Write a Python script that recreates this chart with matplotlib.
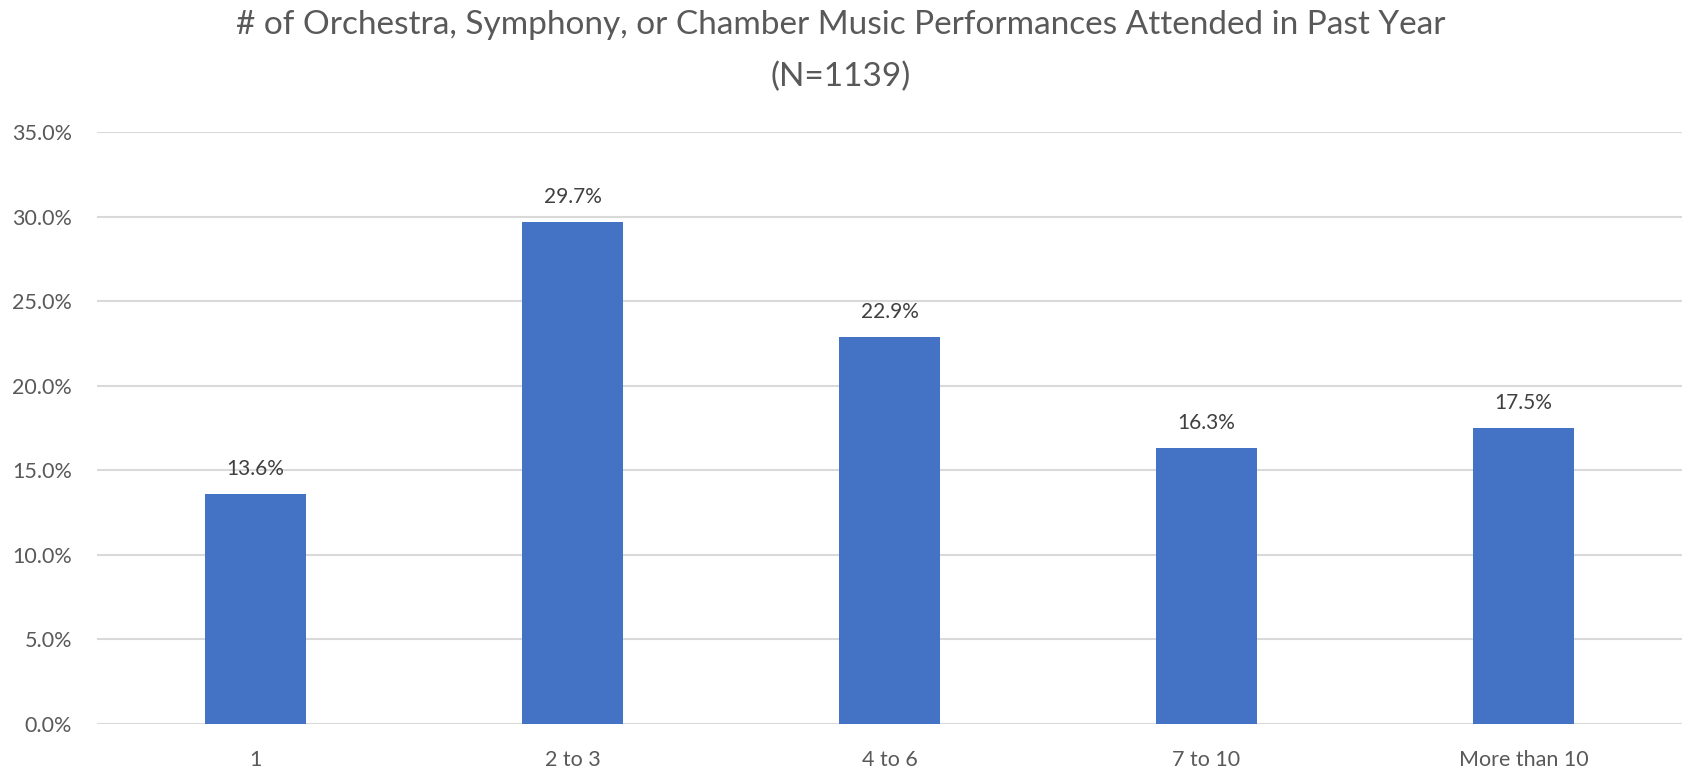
import matplotlib

matplotlib.use("Agg")
import matplotlib.pyplot as plt
from matplotlib.ticker import FuncFormatter, MultipleLocator

# dados
categorias = ["1", "2 to 3", "4 to 6", "7 to 10", "More than 10"]
valores = [13.6, 29.7, 22.9, 16.3, 17.5]
titulo = "# of Orchestra, Symphony, or Chamber Music Performances Attended in Past Year"
subtitulo = "(N=1139)"

COR_BARRA = "#4472C4"
COR_GRADE = "#D9D9D9"
COR_TEXTO = "#595959"
FONTE = "Lato"

plt.rcParams["font.family"] = [FONTE, "DejaVu Sans"]

fig = plt.figure(figsize=(16.82, 7.69), dpi=100)
ax = fig.add_axes([0.0577, 0.0585, 0.9423, 0.7695])

x = range(len(categorias))
ax.bar(x, valores, width=0.32, color=COR_BARRA, zorder=3)
for xi, v in zip(x, valores):
    ax.annotate(f"{v:.1f}%", xy=(xi, v), xytext=(0, 11), textcoords="offset points",
                ha="center", va="bottom", fontsize=15, color="#404040")

ax.set_xlim(-0.5, len(categorias) - 0.5)
ax.set_ylim(0, 35)
ax.yaxis.set_major_locator(MultipleLocator(5))
ax.yaxis.set_major_formatter(FuncFormatter(lambda v, _: f"{v:.1f}%"))
ax.set_xticks(list(x))
ax.set_xticklabels(categorias)
ax.grid(axis="y", color=COR_GRADE, linewidth=1.5, zorder=0)
for lado in ("top", "right", "left", "bottom"):
    ax.spines[lado].set_visible(False)
ax.tick_params(axis="both", length=0, colors=COR_TEXTO, labelsize=15.5)
ax.tick_params(axis="y", pad=18)
ax.tick_params(axis="x", pad=19)

fig.text(0.5, 1 - 25 / 769, titulo, ha="center", va="center", fontsize=24,
         color=COR_TEXTO)
fig.text(0.5, 1 - 77 / 769, subtitulo, ha="center", va="center", fontsize=24,
         color=COR_TEXTO)

fig.savefig("out.png", dpi=100, facecolor="white")
plt.close(fig)
